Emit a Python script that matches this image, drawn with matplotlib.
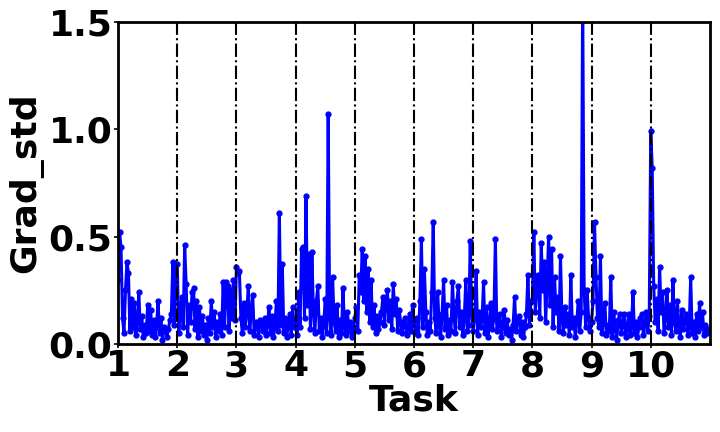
import numpy as np
import matplotlib
matplotlib.use("Agg")
import matplotlib.pyplot as plt

# grad std per step, 40 steps per task
task1 = [0.30, 0.52, 0.45, 0.12, 0.05, 0.25, 0.38, 0.33, 0.06, 0.21, 0.08, 0.19, 0.04, 0.10, 0.24, 0.07, 0.13, 0.03, 0.09, 0.05,
         0.18, 0.06, 0.16, 0.04, 0.11, 0.03, 0.08, 0.20, 0.05, 0.12, 0.02, 0.08, 0.06, 0.03, 0.07, 0.11, 0.14, 0.38, 0.09, 0.37]
task2 = [0.37, 0.05, 0.15, 0.22, 0.08, 0.46, 0.28, 0.04, 0.18, 0.10, 0.24, 0.26, 0.07, 0.20, 0.03, 0.17, 0.06, 0.13, 0.04, 0.09,
         0.02, 0.12, 0.05, 0.20, 0.08, 0.15, 0.03, 0.10, 0.06, 0.14, 0.04, 0.29, 0.08, 0.29, 0.27, 0.06, 0.25, 0.12, 0.30, 0.11]
task3 = [0.36, 0.33, 0.34, 0.12, 0.05, 0.19, 0.08, 0.14, 0.27, 0.06, 0.15, 0.23, 0.04, 0.10, 0.09, 0.03, 0.11, 0.10, 0.06, 0.12,
         0.04, 0.09, 0.17, 0.05, 0.13, 0.03, 0.08, 0.20, 0.06, 0.61, 0.09, 0.37, 0.05, 0.12, 0.03, 0.09, 0.14, 0.04, 0.17, 0.08]
task4 = [0.10, 0.04, 0.24, 0.08, 0.44, 0.45, 0.12, 0.69, 0.18, 0.42, 0.07, 0.43, 0.15, 0.05, 0.20, 0.27, 0.06, 0.12, 0.03, 0.09,
         0.21, 0.05, 1.07, 0.12, 0.04, 0.31, 0.10, 0.06, 0.18, 0.03, 0.11, 0.05, 0.26, 0.08, 0.04, 0.15, 0.06, 0.10, 0.03, 0.07]
task5 = [0.12, 0.17, 0.06, 0.32, 0.24, 0.44, 0.20, 0.41, 0.15, 0.35, 0.10, 0.30, 0.08, 0.18, 0.05, 0.13, 0.07, 0.10, 0.15, 0.22,
         0.09, 0.18, 0.25, 0.11, 0.20, 0.07, 0.28, 0.14, 0.21, 0.06, 0.16, 0.10, 0.05, 0.09, 0.12, 0.04, 0.08, 0.14, 0.06, 0.18]
task6 = [0.10, 0.05, 0.12, 0.04, 0.20, 0.49, 0.08, 0.35, 0.15, 0.04, 0.10, 0.06, 0.24, 0.57, 0.12, 0.05, 0.24, 0.09, 0.03, 0.14,
         0.30, 0.07, 0.18, 0.04, 0.11, 0.06, 0.29, 0.13, 0.05, 0.20, 0.27, 0.08, 0.15, 0.04, 0.12, 0.30, 0.06, 0.09, 0.48, 0.14]
task7 = [0.06, 0.12, 0.34, 0.04, 0.15, 0.08, 0.11, 0.29, 0.05, 0.17, 0.03, 0.09, 0.19, 0.07, 0.12, 0.49, 0.06, 0.10, 0.14, 0.03,
         0.08, 0.16, 0.05, 0.11, 0.04, 0.07, 0.02, 0.09, 0.22, 0.06, 0.12, 0.13, 0.04, 0.10, 0.03, 0.08, 0.14, 0.32, 0.09, 0.20]
task8 = [0.20, 0.52, 0.15, 0.28, 0.32, 0.12, 0.47, 0.25, 0.38, 0.10, 0.30, 0.50, 0.18, 0.44, 0.08, 0.31, 0.15, 0.22, 0.06, 0.41,
         0.12, 0.05, 0.17, 0.09, 0.14, 0.04, 0.32, 0.08, 0.12, 0.03, 0.10, 0.20, 0.06, 0.15, 1.65, 0.25, 0.08, 0.25, 0.12, 0.06]
task9 = [0.10, 0.20, 0.57, 0.31, 0.12, 0.08, 0.41, 0.05, 0.10, 0.19, 0.04, 0.09, 0.06, 0.31, 0.03, 0.15, 0.07, 0.02, 0.11, 0.14,
         0.05, 0.09, 0.14, 0.03, 0.07, 0.14, 0.04, 0.08, 0.24, 0.05, 0.10, 0.03, 0.08, 0.12, 0.14, 0.04, 0.09, 0.15, 0.06, 0.13]
task10 = [0.99, 0.82, 0.27, 0.10, 0.21, 0.06, 0.36, 0.15, 0.24, 0.05, 0.12, 0.25, 0.08, 0.18, 0.04, 0.30, 0.10, 0.06, 0.20, 0.09,
          0.03, 0.16, 0.07, 0.11, 0.14, 0.04, 0.08, 0.31, 0.05, 0.10, 0.03, 0.14, 0.06, 0.19, 0.08, 0.15, 0.04, 0.09, 0.05, 0.07]

tasks = [1, 2, 3, 4, 5, 6, 7, 8, 9, 10]
steps_per_task = 40

grad_std = np.array(task1 + task2 + task3 + task4 + task5 + task6 + task7 + task8 + task9 + task10)
x = 1 + np.arange(len(grad_std)) / steps_per_task

fig = plt.figure(figsize=(7.2, 4.32), dpi=100)
ax = fig.add_axes([0.164, 0.204, 0.822, 0.745])

ax.plot(x, grad_std, color='#0000ff', lw=2.2, marker='o', markersize=3.5)
for t in tasks[1:]:
    ax.axvline(t, color='black', linestyle='-.', lw=1.5)

ax.set_xlim(1, 11)
ax.set_ylim(0, 1.5)
ax.set_xticks(tasks)
ax.set_yticks([0.0, 0.5, 1.0, 1.5])
ax.set_yticklabels(['0.0', '0.5', '1.0', '1.5'])
ax.tick_params(labelsize=26, length=3, width=1.2, pad=1)
for lab in ax.get_xticklabels() + ax.get_yticklabels():
    lab.set_fontweight('bold')
for s in ax.spines.values():
    s.set_linewidth(2)

ax.set_xlabel('Task', fontsize=26, fontweight='bold', labelpad=0)
ax.set_ylabel('Grad_std', fontsize=26, fontweight='bold', labelpad=4)

fig.savefig('out.png', dpi=100)
